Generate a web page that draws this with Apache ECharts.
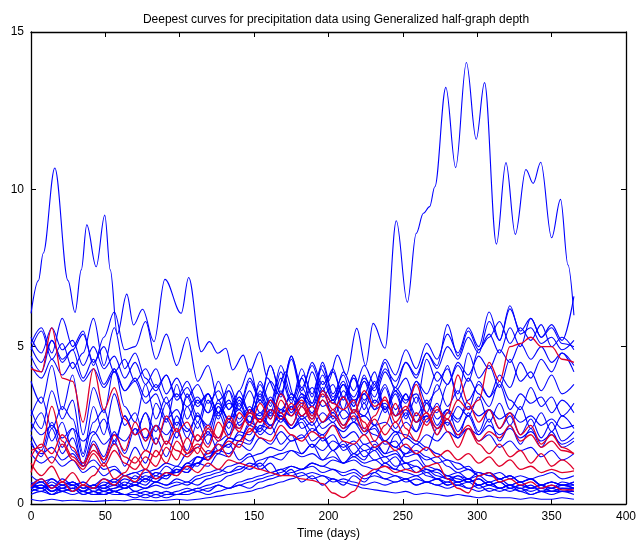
<!DOCTYPE html>
<html>
<head>
<meta charset="utf-8">
<script src="https://cdn.jsdelivr.net/npm/echarts@6/dist/echarts.min.js"></script>
<style>html,body{margin:0;padding:0;background:#fff}#c{width:639px;height:545px}</style>
</head>
<body>
<div id="c"></div>
<script>
// Sampling days shared by most curves
const days = [0,7,14,21,28,35,42,49,56,63,70,77,84,91,98,105,112,119,126,133,140,147,154,161,168,175,182,189,196,203,210,217,224,231,238,245,252,259,266,273,280,287,294,301,308,315,322,329,336,343,350,357,365];
const xTicks = [0,50,100,150,200,250,300,350,400];
const yTicks = [0,5,10,15];

// Highest curve, traced at its turning points
const topDays = [0,5,8.2,16,24.9,29.6,33.8,37.5,43.8,49.6,53.3,58,64.4,68.9,75,82.7,90,101,106,114.4,120,125.6,131,135.6,142.7,147,153.8,159,165,171,177,183,189,195,200,206,212,219,225,230,238,245.6,253,259,263.8,268,271.5,278.9,285.5,292.7,299.3,304.9,312.9,319.3,325.6,332.7,337.6,342.7,350,356,361,365];
const topVals = [6.06,7.1,7.97,10.68,7.1,6.09,7.44,8.87,7.54,9.18,7.44,5.4,6.67,5.69,6.19,5.16,7.14,6.06,7.2,4.84,5.16,4.79,4.95,4.26,4.73,4.2,4.84,4.0,3.5,4.2,3.4,4.1,3.5,4.3,3.9,4.73,4.1,5.58,4.4,5.74,4.95,9.0,6.41,8.6,9.24,9.45,10.08,13.24,10.69,14.03,11.59,13.39,8.26,10.85,8.57,10.63,10.19,10.86,8.46,9.68,7.6,6.0];

// Other curves (blue)
const b01 = [5.1,5.6,4.8,5.9,5.0,5.5,4.4,5.3,6.1,4.9, 5.0,5.8,4.6,5.4,4.4,5.3,3.9,4.4,3.3,3.6, 2.5,2.8,2.2,2.5,1.9,2.2,1.6,1.9,1.4,1.7, 1.3,1.6,1.4,1.9,1.6,2.2,2.6,2.3,3.2,2.9, 3.8,4.4,3.9,4.9,5.4,4.8,5.6,5.0,5.9,5.3, 5.7,5.2,6.6];
const b02 = [4.7,4.2,5.2,4.5,4.9,4.0,4.6,3.8,4.3,3.6, 3.9,3.2,3.5,2.7,3.0,2.4,2.0,2.3,1.7,1.9, 1.4,1.6,1.1,1.3,0.9,1.1,0.7,0.9,0.6,0.8, 0.6,0.9,0.7,1.0,1.3,1.1,1.6,1.9,1.7,2.4, 2.9,2.6,3.3,3.8,3.4,4.1,3.7,4.5,4.0,4.6, 4.2,4.8,4.4];
const b03 = [5.3,4.8,5.6,4.9,5.2,4.4,5.0,4.3,4.7,4.0, 4.5,3.8,4.3,3.5,4.0,3.4,3.8,3.2,3.6,3.0, 3.4,2.9,3.3,2.8,3.5,3.0,3.7,3.1,3.9,3.3, 4.2,3.6,4.4,3.8,4.6,4.1,4.9,4.3,5.1,4.6, 5.4,4.8,5.6,5.0,6.1,5.2,6.3,5.4,5.6,5.1, 5.3,4.9,5.2];
const b04 = [4.9,5.5,4.6,5.1,4.3,4.8,5.9,4.4,5.6,4.3, 4.8,4.0,3.6,4.1,3.3,3.7,3.1,3.5,2.8,3.2, 3.0,3.6,2.9,3.3,2.7,3.1,3.4,2.9,3.6,3.2, 3.8,3.4,4.0,3.6,4.3,3.9,4.5,4.1,4.8,4.3, 5.0,4.6,5.3,4.8,5.8,5.2,6.2,5.5,5.9,5.3, 5.6,5.1,5.0];
const b05 = [5.0,4.5,5.2,4.6,4.9,5.4,4.5,5.0,4.2,4.6, 3.9,4.3,3.7,4.1,3.4,3.9,3.2,3.5,2.9,3.3, 2.7,3.1,2.6,3.0,2.8,2.5,3.1,2.7,3.3,2.9, 3.6,3.1,3.9,3.4,4.2,3.7,4.5,4.0,4.8,4.4, 5.7,4.7,5.5,4.9,5.3,5.8,5.1,5.6,5.2,5.7, 5.0,5.3,4.9];
const b06 = [4.4,4.0,4.6,4.1,4.5,3.9,4.3,3.7,4.2,3.6, 4.0,3.4,3.8,3.2,3.5,3.1,3.4,2.9,3.2,2.7, 3.0,2.6,2.9,2.5,2.8,2.4,2.7,2.3,2.6,2.9, 2.5,3.0,2.8,3.3,3.0,3.6,3.2,3.9,3.5,4.2, 3.8,4.5,4.1,4.7,4.3,4.9,4.5,5.1,4.6,5.0, 4.5,4.8,4.2];
const b07 = [3.9,3.2,4.4,3.0,4.1,2.2,3.7,2.9,4.3,3.1, 2.6,3.8,2.7,3.4,2.3,3.5,2.8,2.4,3.3,2.6, 3.6,2.9,3.9,3.2,4.4,3.5,3.1,4.2,3.4,3.8, 3.0,4.1,3.3,3.7,4.5,3.6,4.0,3.2,4.6,3.9, 4.3,3.5,4.8,4.0,4.4,3.7,4.6,3.9,4.2,3.6, 4.1,3.5,3.8];
const b08 = [3.0,2.4,3.6,2.7,3.3,1.6,3.1,2.2,3.5,2.5, 2.9,2.0,3.2,2.6,3.8,2.7,3.3,2.9,3.9,3.0, 3.6,4.3,3.2,3.9,3.4,4.6,3.5,3.2,4.1,3.3, 3.8,2.9,3.5,4.2,3.0,3.6,2.8,3.9,3.2,3.6, 4.4,3.3,4.0,3.5,3.1,3.9,3.3,3.0,3.7,3.1, 3.4,2.8,3.2];
const b09 = [2.8,3.4,2.4,3.1,2.7,1.5,2.6,3.0,2.0,2.8, 2.2,2.9,1.9,2.7,2.1,3.1,2.4,3.3,2.7,3.6, 3.0,3.9,3.3,4.4,3.5,4.7,3.6,4.5,3.8,4.2, 3.4,4.0,3.2,3.9,3.0,3.7,3.3,3.5,2.9,3.8, 3.1,3.6,3.0,3.9,3.4,3.8,3.0,3.5,3.2,3.4, 2.9,3.3,2.9];
const b10 = [2.3,2.9,2.0,2.6,1.7,1.3,2.2,2.7,1.9,2.8, 2.2,2.9,2.3,3.2,2.5,3.4,2.6,3.5,2.9,3.8, 3.1,4.0,3.4,4.4,3.5,4.7,3.7,4.4,3.6,4.3, 3.3,4.1,3.0,3.8,2.9,3.5,2.7,3.4,2.6,3.2, 2.5,3.1,2.8,3.4,2.6,3.2,2.5,3.1,2.4,2.9, 2.3,2.8,2.4];
const b11 = [2.2,1.7,2.6,1.8,2.4,1.2,2.0,1.5,2.3,1.6, 2.4,1.7,2.5,1.9,2.8,2.1,2.9,2.2,3.1,2.4, 3.3,2.6,3.5,2.7,3.6,2.9,3.5,2.8,3.7,2.7, 3.4,2.6,3.2,2.5,3.1,2.4,2.9,2.3,2.8,2.2, 2.7,2.1,2.9,2.3,3.0,2.4,2.8,2.2,2.7,2.1, 2.6,2.0,2.3];
const b12 = [2.6,2.2,2.5,2.1,2.4,2.0,2.3,1.9,2.2,2.0, 2.4,2.1,2.5,2.2,2.6,2.3,2.8,2.5,3.1,2.7, 3.4,2.9,3.8,3.1,4.2,3.3,4.0,3.2,4.4,3.4, 3.9,3.1,4.1,3.2,3.8,3.0,3.5,2.8,3.3,2.7, 3.0,2.7,3.1,2.8,3.0,2.7,2.9,2.6,2.8,2.5, 2.7,2.4,2.5];
const b13 = [2.0,1.5,2.4,1.6,2.1,1.2,1.9,1.3,2.0,1.2, 1.8,1.3,2.1,1.5,2.3,1.7,2.6,1.9,2.9,2.2, 3.2,2.5,3.6,2.9,4.0,3.2,4.3,3.4,4.5,3.5, 4.1,3.2,3.9,3.0,3.7,2.8,3.5,2.6,3.2,2.5, 3.0,2.3,2.8,2.2,2.7,2.0,2.5,1.9,2.4,1.8, 2.3,1.8,2.0];
const b14 = [1.6,1.3,1.5,1.2,1.4,1.0,1.2,0.9,1.1,0.9, 1.0,0.8,1.0,0.9,1.1,1.0,1.3,1.2,1.6,1.5, 2.0,1.9,2.5,2.4,3.0,2.8,3.4,3.1,3.6,3.2, 3.8,3.3,3.5,3.0,3.2,2.8,3.0,2.6,2.8,2.4, 2.6,2.2,2.4,2.0,2.2,1.8,2.0,1.7,1.8,1.5, 1.7,1.4,1.6];
const b15 = [1.9,1.6,1.8,1.4,1.6,1.2,1.4,1.1,1.2,0.9, 1.0,1.1,0.9,1.2,1.0,1.3,1.5,1.4,1.7,1.6, 1.9,1.7,2.1,1.9,2.3,2.0,2.2,1.8,2.1,1.7, 2.0,1.6,1.9,1.7,2.0,1.8,2.1,1.9,2.2,2.0, 2.3,2.1,2.4,2.2,2.5,2.2,2.4,2.1,2.3,2.0, 2.2,1.9,2.1];
const b16 = [0.7,0.5,0.8,0.6,0.7,0.5,0.6,0.8,0.7,0.9, 0.8,1.0,1.1,1.3,1.2,1.6,1.8,2.2,2.1,2.6, 2.4,2.9,2.7,3.3,3.0,3.4,2.8,3.1,2.6,2.8, 2.4,2.6,2.2,2.5,2.0,2.3,1.8,1.6,1.4,1.5, 1.2,1.0,1.1,0.9,1.0,0.8,0.9,0.7,0.8,0.6, 0.7,0.6,0.7];
const b17 = [0.5,0.7,0.4,0.6,0.5,0.7,0.5,0.6,0.8,0.6, 0.9,0.7,1.0,0.9,1.2,1.1,1.5,1.4,1.9,1.8, 2.3,2.2,2.7,2.5,2.9,2.4,2.6,2.0,2.2,1.7, 1.9,1.5,1.7,1.4,1.5,1.2,1.3,1.0,1.1,0.9, 0.8,0.7,0.8,0.6,0.7,0.5,0.6,0.5,0.6,0.4, 0.5,0.6,0.5];
const b18 = [0.6,0.8,0.5,0.7,0.6,0.4,0.6,0.5,0.7,0.5, 0.6,0.8,0.7,1.0,0.9,1.3,1.2,1.7,1.6,2.1, 2.0,2.6,2.4,3.0,2.9,3.5,3.2,3.7,3.1,3.3, 2.7,2.9,2.3,2.4,1.9,2.0,1.5,1.6,1.2,1.1, 0.9,1.0,0.8,0.9,0.7,0.8,0.6,0.7,0.5,0.6, 0.5,0.7,0.6];
const b19 = [0.4,0.5,0.3,0.5,0.4,0.6,0.4,0.5,0.6,0.5, 0.7,0.6,0.9,0.8,1.1,1.0,1.5,1.4,2.0,2.2, 2.6,3.0,2.8,3.4,2.9,3.1,2.4,2.6,2.0,2.2, 1.7,1.9,1.5,1.7,1.3,1.5,1.1,1.2,0.9,0.8, 0.6,0.7,0.5,0.6,0.4,0.5,0.4,0.5,0.3,0.4, 0.4,0.5,0.4];
const b20 = [0.5,0.6,0.4,0.5,0.7,0.5,0.6,0.4,0.5,0.7, 0.6,0.8,0.7,0.9,1.0,1.2,1.3,1.6,1.7,2.1, 2.0,2.5,2.3,2.9,2.6,3.1,2.7,2.9,2.4,2.6, 2.1,2.3,1.9,2.0,1.6,1.7,1.3,1.4,1.1,1.0, 0.8,0.9,0.7,0.8,0.6,0.7,0.5,0.6,0.5,0.6, 0.5,0.4,0.5];
const b21 = [0.6,0.7,0.5,0.8,0.6,0.7,0.5,0.7,0.6,0.8, 0.7,0.9,0.8,1.0,1.0,1.2,1.3,1.5,1.7,1.9, 2.2,2.0,2.4,2.2,2.7,2.4,2.8,2.5,2.9,2.6, 3.0,2.7,2.8,2.5,2.6,2.3,2.2,2.0,1.8,1.6, 1.4,1.3,1.1,1.0,0.9,0.8,0.9,0.7,0.8,0.6, 0.7,0.6,0.6];
const b22 = [0.6,0.5,0.7,0.5,0.6,0.4,0.5,0.6,0.4,0.5, 0.6,0.5,0.7,0.6,0.7,0.6,0.8,0.9,1.0,1.2, 1.3,1.5,1.6,1.8,1.7,2.0,2.1,2.4,2.2,2.5, 2.3,2.6,2.4,2.2,2.0,1.8,1.6,1.7,1.5,1.3, 1.4,1.1,1.2,0.9,1.0,0.8,0.9,0.7,0.8,0.6, 0.7,0.6,0.7];
const b23 = [0.5,0.6,0.4,0.5,0.4,0.6,0.5,0.4,0.5,0.6, 0.4,0.5,0.6,0.5,0.6,0.7,0.6,0.8,0.9,1.0, 1.1,1.3,1.2,1.5,1.4,1.7,1.6,1.9,1.7,2.0, 1.8,2.0,1.7,1.8,1.5,1.6,1.3,1.2,1.0,1.1, 0.9,0.8,0.7,0.8,0.6,0.7,0.5,0.6,0.5,0.6, 0.4,0.5,0.5];
const b24 = [0.4,0.5,0.3,0.4,0.5,0.3,0.4,0.3,0.4,0.3, 0.4,0.3,0.4,0.3,0.4,0.5,0.4,0.5,0.6,0.5, 0.6,0.7,0.8,0.9,1.0,1.2,1.1,1.3,1.2,1.4, 1.3,1.5,1.3,1.4,1.2,1.1,1.0,0.9,1.0,0.8, 0.9,0.7,0.8,0.6,0.7,0.5,0.6,0.5,0.4,0.5, 0.4,0.4,0.4];
const b25 = [0.5,0.4,0.6,0.4,0.5,0.3,0.4,0.3,0.4,0.3, 0.3,0.4,0.3,0.4,0.3,0.4,0.5,0.4,0.6,0.5, 0.7,0.8,0.9,1.0,1.1,1.2,1.1,1.3,1.2,1.1, 1.0,1.1,0.9,1.0,0.8,0.9,0.7,0.8,0.7,0.6, 0.7,0.6,0.7,0.5,0.6,0.5,0.6,0.4,0.5,0.5, 0.6,0.5,0.5];
const b26 = [0.6,0.5,0.6,0.4,0.5,0.4,0.3,0.4,0.3,0.3, 0.2,0.3,0.2,0.3,0.3,0.4,0.5,0.6,0.7,0.9, 1.0,1.2,1.4,1.5,1.6,1.7,1.5,1.6,1.4,1.5, 1.3,1.4,1.2,1.1,1.0,0.9,0.8,0.9,0.7,0.8, 0.6,0.7,0.8,0.6,0.7,0.5,0.6,0.7,0.5,0.6, 0.5,0.6,0.5];
const b27 = [0.3,0.4,0.3,0.4,0.3,0.4,0.3,0.3,0.4,0.3, 0.3,0.2,0.3,0.2,0.3,0.3,0.4,0.3,0.4,0.5, 0.6,0.5,0.7,0.8,0.9,1.0,1.1,1.2,1.0,1.1, 0.9,1.0,0.8,0.9,0.8,0.7,0.8,0.6,0.7,0.6, 0.5,0.6,0.5,0.4,0.5,0.4,0.5,0.4,0.3,0.4, 0.3,0.4,0.3];
const b28 = [0.15,0.1,0.15,0.1,0.12,0.1,0.08,0.1,0.12,0.1, 0.15,0.12,0.1,0.12,0.15,0.12,0.15,0.2,0.25,0.3, 0.35,0.4,0.5,0.6,0.7,0.8,0.9,1.0,0.9,0.8, 0.7,0.6,0.5,0.45,0.4,0.35,0.4,0.3,0.35,0.3, 0.25,0.3,0.25,0.2,0.25,0.2,0.2,0.15,0.2,0.15, 0.15,0.2,0.15];
const b29 = [0.9,0.7,0.8,0.6,0.7,0.5,0.6,0.5,0.4,0.5, 0.6,0.5,0.7,0.6,0.8,0.7,0.9,1.0,1.1,1.0, 1.2,1.1,1.3,1.0,1.1,0.9,1.0,0.8,0.9,0.7, 0.8,0.7,0.6,0.7,0.6,0.7,0.8,0.6,0.7,0.8, 0.7,0.9,0.8,1.0,0.9,1.0,0.8,0.9,0.8,0.9, 1.0,0.8,0.9];

// Deepest curves (red)
const r1 = [4.3,4.2,5.6,4.0,3.9,2.6,4.3,3.0,3.7,2.7, 2.2,2.4,1.9,2.8,2.3,2.6,2.0,2.5,2.1,2.8, 2.4,2.9,2.6,3.0,2.7,3.2,2.8,3.1,2.6,3.0, 2.5,2.8,2.3,2.7,2.2,2.6,2.1,2.9,2.5,3.0, 2.7,3.3,3.0,3.3,4.5,3.9,5.0,5.1,5.3,5.0, 5.0,4.6,4.5];
const r2 = [1.7,1.8,3.1,2.0,1.5,1.2,1.9,1.4,2.2,1.7, 2.6,2.0,2.5,1.9,2.4,1.6,1.9,1.6,1.9,1.5, 2.0,2.3,2.7,2.4,3.3,2.8,3.2,2.7,3.6,3.2, 3.0,3.3,2.4,2.8,3.4,2.6,3.0,3.8,2.9,2.2, 2.9,4.1,3.2,2.6,3.0,2.4,2.9,2.2,2.5,1.9, 2.2,1.8,1.6];
const r3 = [1.0,1.7,1.3,1.9,1.4,1.1,1.6,1.2,1.7,1.3, 1.1,1.5,1.2,1.8,1.4,2.1,1.6,2.4,2.0,2.7, 2.3,3.0,2.6,3.3,2.9,2.5,3.1,2.6,3.3,2.8, 2.4,3.0,2.6,2.0,2.5,3.2,2.4,2.0,2.7,3.1, 2.3,1.8,2.4,1.9,1.6,1.9,1.5,1.7,1.3,1.6, 1.2,1.4,1.1];
const r4 = [0.55,0.8,0.5,0.7,0.4,0.6,0.5,0.8,0.6,0.9, 0.7,1.1,0.8,1.0,0.9,1.2,1.0,1.3,1.1,1.4, 1.3,1.2,1.1,1.0,0.9,0.9,0.8,0.75,0.65,0.35, 0.2,0.4,0.9,1.1,1.2,1.0,1.1,1.0,1.2,1.3, 0.8,0.5,0.35,0.9,1.0,0.7,0.8,0.6,0.7,0.5, 0.6,0.45,0.45];
const r5 = [1.5,1.9,1.6,2.2,1.8,1.3,1.7,1.4,1.9,1.5, 1.3,1.7,1.5,2.0,1.7,1.5,1.8,1.4,1.7,2.0, 1.8,2.4,2.1,2.0,2.5,2.2,2.0,2.3,2.1,2.5, 2.0,1.9,2.2,1.8,2.0,1.7,1.9,1.6,1.8,1.5, 1.7,1.4,1.6,1.3,1.5,1.2,1.4,1.1,1.2,1.0, 1.1,1.0,1.05];
const r6 = [1.3,0.9,1.2,0.7,1.0,0.6,0.9,1.3,0.8,1.0, 1.5,1.1,1.7,1.3,2.0,1.6,2.2,1.8,2.6,2.1, 2.9,2.5,3.2,2.7,3.5,3.0,3.3,2.8,3.5,3.0, 3.4,2.9,3.6,3.1,3.3,2.8,3.1,2.6,2.9,2.4, 2.7,2.2,2.5,2.0,2.3,2.1,2.5,2.0,2.2,1.8, 2.0,1.7,1.6];

const blueCurves = [b01,b02,b03,b04,b05,b06,b07,b08,b09,b10,b11,b12,b13,b14,b15,b16,b17,b18,b19,b20,b21,b22,b23,b24,b25,b26,b27,b28,b29];
const redCurves = [r1,r2,r3,r4,r5,r6];

const BLUE = '#0000ff';
const RED = '#e0002a';
const FONT = '"Liberation Sans", Arial, Helvetica, sans-serif';

function lineSeries(points, color, width) {
  return {
    type: 'line', data: points, smooth: 0.35, smoothMonotone: 'x',
    showSymbol: false, symbol: 'none', silent: true, animation: false,
    lineStyle: { color: color, width: width }, z: color === RED ? 3 : 2
  };
}

const series = [];
series.push(lineSeries(topDays.map((d, i) => [d, topVals[i]]), BLUE, 1.1));
blueCurves.forEach(c => series.push(lineSeries(days.map((d, i) => [d, c[i]]), BLUE, 1.1)));
redCurves.forEach(c => series.push(lineSeries(days.map((d, i) => [d, c[i]]), RED, 1.3)));

const axisLine = { show: true, onZero: false, lineStyle: { color: '#000', width: 1.3 } };
const tick = { show: true, inside: true, length: 5, lineStyle: { color: '#000', width: 1 } };
const label = { color: '#000', fontSize: 12, fontFamily: FONT };

const chart = echarts.init(document.getElementById('c'), null, { renderer: 'canvas' });
chart.setOption({
  animation: false,
  backgroundColor: '#fff',
  title: {
    text: 'Deepest curves for precipitation data using Generalized half-graph depth',
    left: 331, top: 9, textAlign: 'center',
    textStyle: { color: '#000', fontSize: 12, fontWeight: 'normal', fontFamily: FONT }
  },
  grid: { left: 31, right: 8, top: 32, bottom: 41, containLabel: false },
  xAxis: [
    { type: 'value', position: 'bottom', min: xTicks[0], max: xTicks[xTicks.length - 1], interval: 50,
      axisLine: axisLine, axisTick: tick, splitLine: { show: false },
      axisLabel: Object.assign({ margin: 7 }, label),
      name: 'Time (days)', nameLocation: 'middle', nameGap: 22,
      nameTextStyle: { color: '#000', fontSize: 12, fontFamily: FONT } },
    { type: 'value', position: 'top', min: xTicks[0], max: xTicks[xTicks.length - 1], interval: 50,
      axisLine: axisLine, axisTick: tick, splitLine: { show: false }, axisLabel: { show: false } }
  ],
  yAxis: [
    { type: 'value', position: 'left', min: yTicks[0], max: yTicks[yTicks.length - 1], interval: 5,
      axisLine: axisLine, axisTick: tick, splitLine: { show: false },
      axisLabel: Object.assign({ margin: 7 }, label) },
    { type: 'value', position: 'right', min: yTicks[0], max: yTicks[yTicks.length - 1], interval: 5,
      axisLine: axisLine, axisTick: tick, splitLine: { show: false }, axisLabel: { show: false } }
  ],
  series: series
});
</script>
</body>
</html>
